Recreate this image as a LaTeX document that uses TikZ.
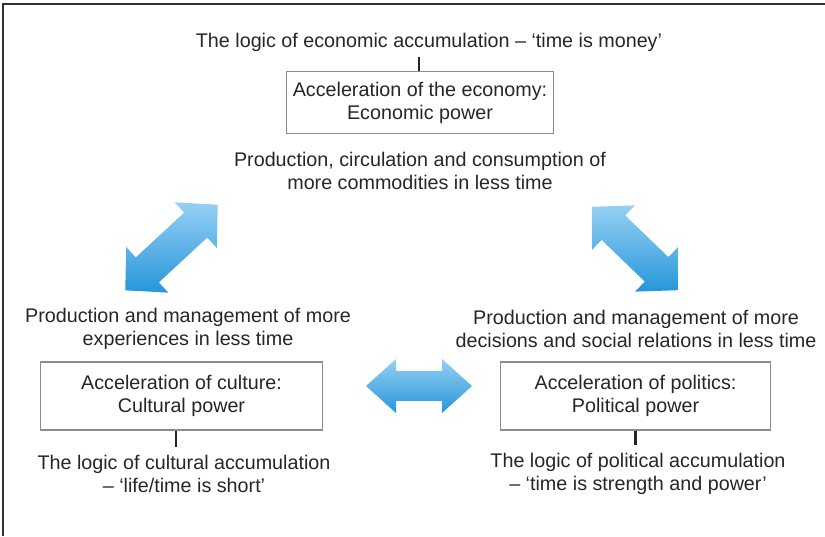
\documentclass[tikz,border=0pt]{standalone}
\usepackage{fontspec}
\setmainfont{Liberation Sans}
\usetikzlibrary{calc}

\definecolor{arrowlight}{RGB}{150,208,243}
\definecolor{arrowdark}{RGB}{38,150,218}

\tikzset{
  lbl/.style={align=center, inner sep=4pt, text=black!85,
    font=\fontsize{14.8}{17.3}\selectfont},
  box/.style={draw=black!45, line width=0.9pt, fill=white, align=center,
    inner sep=0pt, text=black!85, font=\fontsize{14.8}{17.3}\selectfont},
  tick/.style={line width=1.6pt, black!85},
  fatarrow/.style={draw=none, top color=arrowlight, bottom color=arrowdark}
}

% fat double arrow: centre, angle, half length, half head width, half shaft width
\newcommand{\fatarrow}[5]{%
  \begin{scope}[shift={#1}, rotate=#2]
    \path[fatarrow] (-#3,0) -- (-#3+30,#4) -- (-#3+30,#5) -- (#3-30,#5)
      -- (#3-30,#4) -- (#3,0) -- (#3-30,-#4) -- (#3-30,-#5)
      -- (-#3+30,-#5) -- (-#3+30,-#4) -- cycle;
  \end{scope}}

\begin{document}
\begin{tikzpicture}[x=0.75pt, y=0.75pt]

  \useasboundingbox (0,0) rectangle (825,536);
  \draw[black!80, line width=0.9pt] (3,0) -- (3,532) -- (825,532);

  % economy
  \node[lbl] (econlogic) at (429,494) {The logic of economic accumulation -- `time is money'};
  \node[box, minimum width=200pt, minimum height=46pt] (econ) at (420,433.5) {Acceleration of the economy:\\Economic power};
  \node[lbl] (econprod) at (420,365) {Production, circulation and consumption of\\more commodities in less time};

  % culture
  \node[lbl] (cultprod) at (188,207) {Production and management of more\\experiences in less time};
  \node[box, minimum width=212pt, minimum height=51pt] (cult) at (181.5,140) {Acceleration of culture:\\Cultural power};
  \node[lbl, inner sep=6pt] (cultlogic) at (184,62) {The logic of cultural accumulation\\-- `life/time is short'};

  % politics
  \node[lbl] (politprod) at (636,207) {Production and management of more\\decisions and social relations in less time};
  \node[box, minimum width=203pt, minimum height=51pt] (polit) at (635.5,140) {Acceleration of politics:\\Political power};
  \node[lbl, inner sep=6pt] (politlogic) at (638,62) {The logic of political accumulation\\-- `time is strength and power'};

  \draw[tick] ([xshift=-1pt]econ.north) -- ([xshift=-1pt]econ.north |- econlogic.south);
  \draw[tick] ([xshift=-4pt]cult.south) -- ([xshift=-4pt]cult.south |- cultlogic.north);
  \draw[tick] (polit.south) -- (polit.south |- politlogic.north);

  \fatarrow{(171.5,288.5)}{42.8}{63}{31}{17}
  \fatarrow{(635,287.5)}{-44}{60}{31}{17}
  \fatarrow{(419,150)}{0}{53}{27}{15}

\end{tikzpicture}
\end{document}
